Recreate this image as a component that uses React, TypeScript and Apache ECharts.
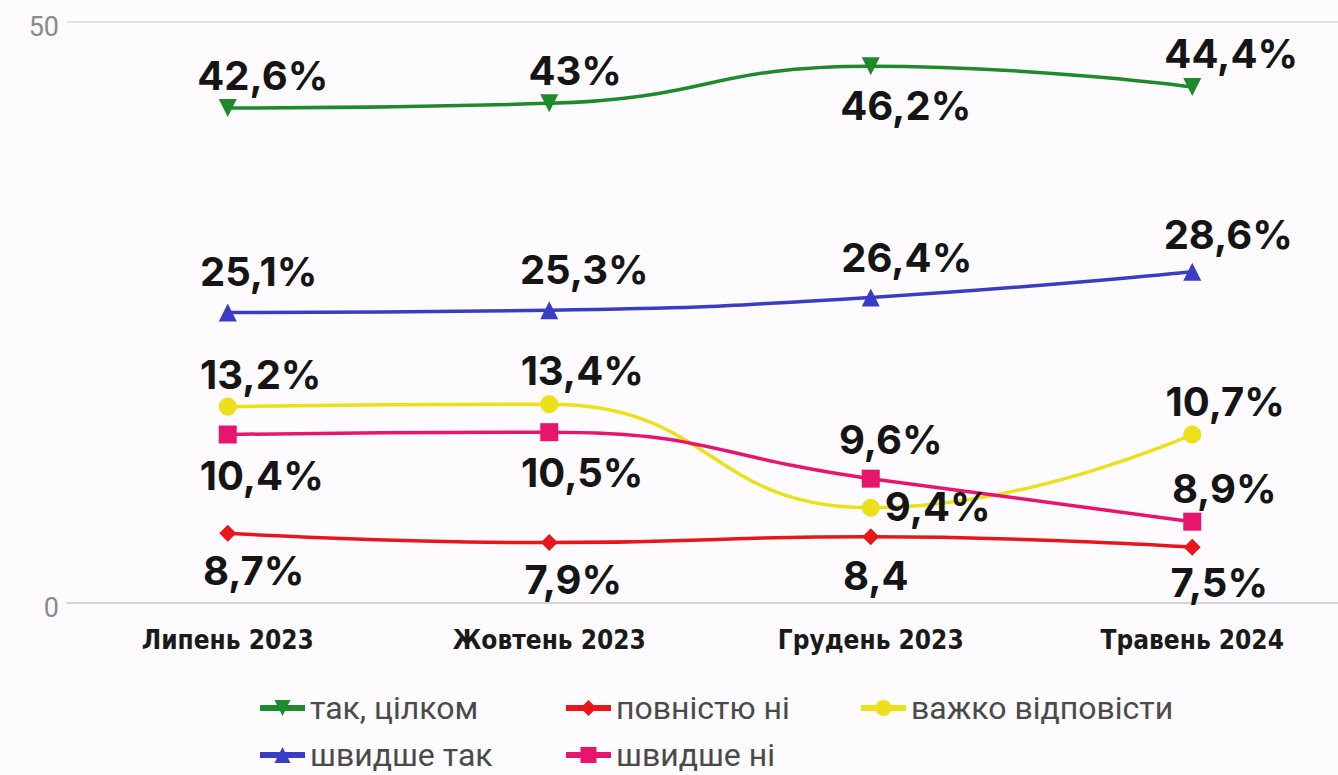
import React, { useEffect, useRef } from "react";
import * as echarts from "echarts";

const categories = ["Липень 2023", "Жовтень 2023", "Грудень 2023", "Травень 2024"];
const yTicks = [0, 50];

const greenName = "так, цілком";
const greenValues = [42.6, 43.0, 46.2, 44.4];
const greenLabels = ["42,6%", "43%", "46,2%", "44,4%"];

const blueName = "швидше так";
const blueValues = [25.0, 25.2, 26.3, 28.5];
const blueLabels = ["25,1%", "25,3%", "26,4%", "28,6%"];

const yellowName = "важко відповісти";
const yellowValues = [16.9, 17.1, 8.2, 14.5];
const yellowLabels = ["13,2%", "13,4%", "9,4%", "10,7%"];

const pinkName = "швидше ні";
const pinkValues = [14.5, 14.7, 10.7, 7.0];
const pinkLabels = ["10,4%", "10,5%", "9,6%", "8,9%"];

const redName = "повністю ні";
const redValues = [6.0, 5.2, 5.7, 4.8];
const redLabels = ["8,7%", "7,9%", "8,4", "7,5%"];

// label offsets (layout only)
const greenOffsets = [[35, -32], [26, -33], [35, 39], [39, -34]];
const blueOffsets = [[31, -41], [35, -41], [36, -40], [36, -37]];
const yellowOffsets = [[33, -32], [33, -34], [67, -1], [33, -33]];
const pinkOffsets = [[34, 41], [33, 40], [20, -39], [32, -33]];
const redOffsets = [[26, 37], [24, 37], [5, 39], [27, 35]];

const labelFont = "Inter, Roboto, sans-serif";

function makeSeries(
  name: string,
  values: number[],
  labels: string[],
  offsets: number[][],
  color: string,
  symbol: string,
  symbolSize: number,
  symbolRotate = 0
) {
  return {
    name,
    type: "line",
    smooth: 0.5,
    symbol,
    symbolSize,
    symbolRotate,
    showAllSymbol: true,
    lineStyle: { color, width: 3.5 },
    itemStyle: { color },
    data: values.map((v, i) => ({
      value: v,
      label: {
        show: true,
        position: "inside",
        offset: offsets[i],
        formatter: labels[i],
        align: "center",
        verticalAlign: "middle",
        color: "#151515",
        fontSize: 40,
        fontWeight: "bold",
        fontFamily: labelFont,
      },
    })),
    emphasis: { disabled: true },
    z: 3,
  };
}

export default function App() {
  const ref = useRef<HTMLDivElement>(null);
  useEffect(() => {
    if (!ref.current) return;
    const chart = echarts.init(ref.current, undefined, { renderer: "svg" });
    const legendText = {
      fontSize: 32,
      color: "#4a4a4a",
      fontFamily: "Roboto, 'Noto Sans', sans-serif",
      lineHeight: 34,
    };
    const mkLegend = (name: string, left: number, top: number) => ({
      orient: "horizontal",
      left,
      top,
      padding: 0,
      itemWidth: 45,
      itemHeight: 20,
      itemGap: 8,
      textStyle: legendText,
      lineStyle: { width: 6 },
      selectedMode: false,
      data: [name],
    });
    chart.setOption({
      animation: false,
      backgroundColor: "#fdfbfd",
      grid: { left: 67, right: 0, top: 22, bottom: 172, containLabel: false },
      legend: [
        mkLegend(greenName, 257, 691),
        mkLegend(blueName, 257, 738),
        mkLegend(redName, 563, 691),
        mkLegend(pinkName, 563, 738),
        mkLegend(yellowName, 858, 691),
      ],
      xAxis: {
        type: "category",
        data: categories,
        boundaryGap: true,
        axisLine: { show: true, lineStyle: { color: "#d4d4d4", width: 2 } },
        axisTick: { show: false },
        axisLabel: {
          margin: 24,
          fontSize: 26,
          fontWeight: "bold",
          color: "#1a1a1a",
          fontFamily: "'Liberation Sans Narrow', 'DejaVu Sans Condensed', 'Roboto', sans-serif",
        },
      },
      yAxis: {
        type: "value",
        min: yTicks[0],
        max: yTicks[1],
        interval: yTicks[1] - yTicks[0],
        axisLine: { show: false },
        axisTick: { show: false },
        splitLine: { lineStyle: { color: "#e2e2e2", width: 2 } },
        axisLabel: {
          margin: 8,
          fontSize: 27,
          color: "#8a8a8a",
          fontFamily: "Roboto, sans-serif",
          verticalAlign: "top",
          lineHeight: 10,
        },
      },
      series: [
        makeSeries(greenName, greenValues, greenLabels, greenOffsets, "#1e8a2c", "triangle", 18, 180),
        makeSeries(redName, redValues, redLabels, redOffsets, "#e8161b", "diamond", 17),
        makeSeries(yellowName, yellowValues, yellowLabels, yellowOffsets, "#ece01b", "circle", 18),
        makeSeries(blueName, blueValues, blueLabels, blueOffsets, "#3a3dc4", "triangle", 18),
        makeSeries(pinkName, pinkValues, pinkLabels, pinkOffsets, "#e8156e", "rect", 18),
      ],
    });
    return () => chart.dispose();
  }, []);
  return (
    <div
      style={{
        position: "absolute",
        left: 0,
        top: 0,
        width: 1338,
        height: 775,
        overflow: "hidden",
        background: "#fdfbfd",
      }}
    >
      <div ref={ref} style={{ width: 1353, height: 775 }} />
    </div>
  );
}
